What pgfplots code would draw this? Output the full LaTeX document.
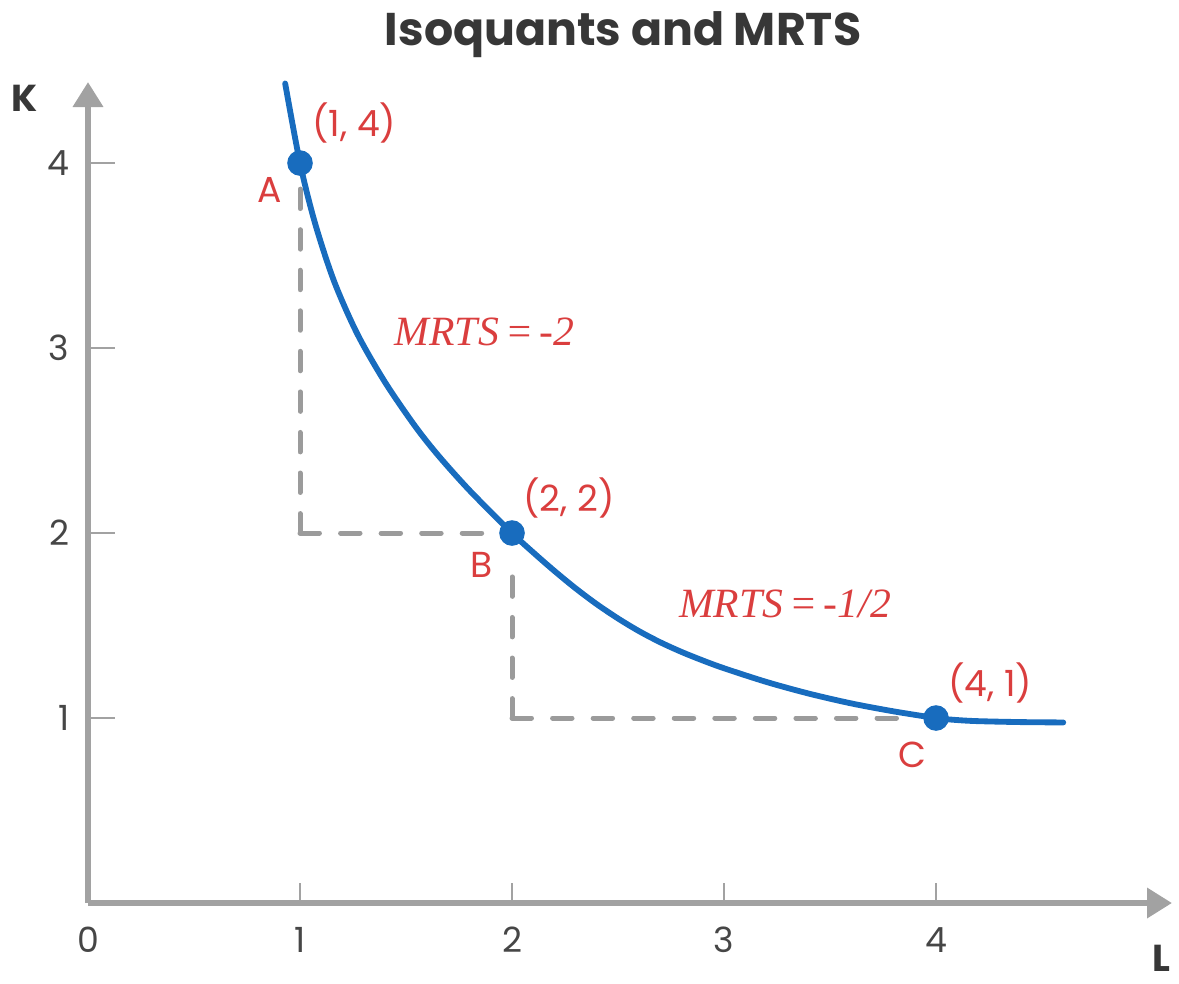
\documentclass[border=0pt]{standalone}
\usepackage{fontspec}
\setmainfont{Poppins}
\newfontfamily\serifit{Liberation Serif}
\usepackage{pgfplots}
\pgfplotsset{compat=1.18}
\usetikzlibrary{arrows.meta,calc}
\definecolor{curveblue}{RGB}{24,108,190}
\definecolor{labred}{RGB}{218,62,62}
\definecolor{axgray}{RGB}{162,162,162}
\definecolor{dashgray}{RGB}{155,155,155}
\definecolor{txtdark}{RGB}{55,55,55}
\definecolor{ticktxt}{RGB}{70,70,70}
\begin{document}
\begin{tikzpicture}
\begin{axis}[
  scale only axis,
  width=390.24pt, height=295.56pt,
  xmin=0, xmax=5.113, ymin=0, ymax=4.438,
  enlargelimits=false,
  axis lines=left,
  axis line style={draw=axgray, line width=2.2pt},
  x axis line style={-{Triangle[length=9pt,width=10.5pt]}},
  y axis line style={-{Triangle[length=9pt,width=10.5pt]}},
  xtick={0,1,2,3,4}, ytick={1,2,3,4},
  major tick length=0pt,
  /pgf/number format/assume math mode=true,
  tick label style={font=\fontsize{12.5}{14}\selectfont, text=ticktxt},
  xticklabel style={anchor=center, yshift=-13.3pt},
  yticklabel style={anchor=east, inner sep=0pt, xshift=-6.5pt},
  clip=false,
]
\coordinate (sw) at (rel axis cs:0,0);
\coordinate (ne) at (rel axis cs:1,1);
% tick marks
\pgfplotsinvokeforeach{1,2,3,4}{
  \draw[axgray, line width=1pt] (axis cs:#1,0) -- ++(0,7.2pt);
  \draw[axgray, line width=1pt] (axis cs:0,#1) -- ++(9.7pt,0);
}
% dashed guides
\draw[dashgray, line width=1.8pt, line cap=round, dash pattern=on 7pt off 7.6pt] (axis cs:1,2) -- (axis cs:1,3.86);
\draw[dashgray, line width=1.8pt, line cap=round, dash pattern=on 7pt off 7.6pt] (axis cs:1,2) -- (axis cs:1.87,2);
\draw[dashgray, line width=1.8pt, line cap=round, dash pattern=on 7pt off 7.6pt] (axis cs:2,1) -- (axis cs:2,1.86);
\draw[dashgray, line width=1.8pt, line cap=round, dash pattern=on 7pt off 7.6pt] (axis cs:2,1) -- (axis cs:3.87,1);
% isoquant
\addplot[curveblue, line width=2.1pt, line cap=round, smooth] coordinates {
 (0.93,4.43) (1,4) (1.07,3.678) (1.16,3.363) (1.27,3.077) (1.4,2.817) (1.54,2.582) (1.65,2.422) (1.8,2.23) (2,2)
 (2.1,1.895) (2.2,1.795) (2.3,1.701) (2.4,1.615) (2.5,1.538) (2.6,1.469) (2.7,1.409) (2.8,1.357) (2.9,1.311) (3.0,1.269)
 (3.2,1.195) (3.4,1.132) (3.6,1.079) (3.8,1.036) (4,1.0)
 (4.1,0.989) (4.2,0.983) (4.4,0.978) (4.6,0.976)
};
\addplot[only marks, mark=*, mark size=4.4pt, curveblue] coordinates {(1,4) (2,2) (4,1)};
% labels
\node[font=\bfseries\fontsize{16.5}{18}\selectfont, text=txtdark, anchor=base] at (axis cs:2.524,4.638) {Isoquants and MRTS};
\node[font=\bfseries\fontsize{13.5}{15}\selectfont, text=txtdark, anchor=base] at (axis cs:-0.300,4.276) {K};
\node[font=\bfseries\fontsize{13.5}{15}\selectfont, text=txtdark, anchor=base] at (axis cs:5.065,-0.37) {L};
\begin{scope}[every node/.style={font=\fontsize{13}{15}\selectfont, text=labred, anchor=base, inner sep=0pt}]
\node at (axis cs:1.257,4.141) {(1, 4)};
\node at (axis cs:0.858,3.784) {A};
\node at (axis cs:2.269,2.114) {(2, 2)};
\node at (axis cs:1.856,1.757) {B};
\node at (axis cs:4.255,1.114) {(4, 1)};
\node at (axis cs:3.889,0.735) {C};
\node[font=\serifit\itshape\fontsize{15}{17}\selectfont] at (axis cs:1.870,3.016) {MRTS\hspace{0.15em}=\hspace{0.15em}-2};
\node[font=\serifit\itshape\fontsize{15}{17}\selectfont] at (axis cs:3.288,1.541) {MRTS\hspace{0.15em}=\hspace{0.15em}-1/2};
\end{scope}
\end{axis}
\pgfresetboundingbox
\path ($(sw)+(-31.68pt,-28.8pt)$) rectangle ($(ne)+(2.52pt,29.52pt)$);
\end{tikzpicture}
\end{document}
